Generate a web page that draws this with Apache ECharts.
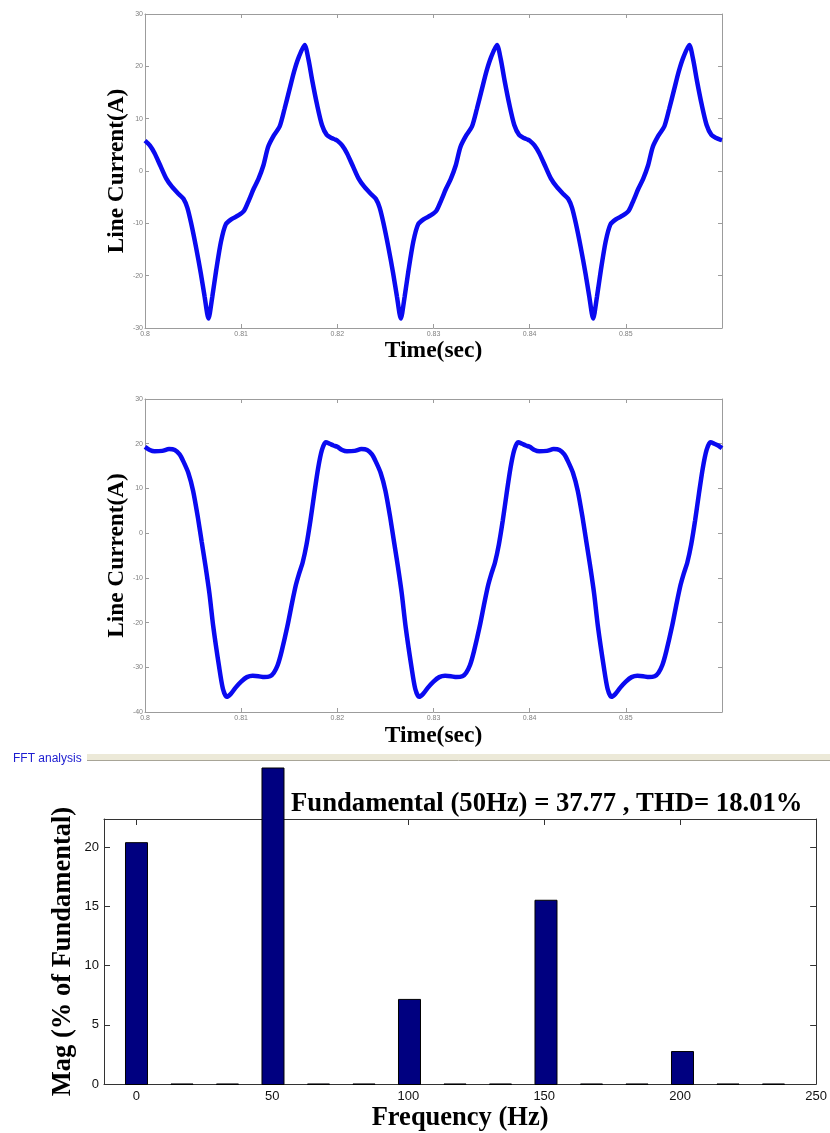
<!DOCTYPE html>
<html><head><meta charset="utf-8">
<script src="https://cdn.jsdelivr.net/npm/echarts@6/dist/echarts.min.js"></script>
<style>html,body{margin:0;padding:0;background:#fff;} #c{width:830px;height:1133px;}</style>
</head><body><div id="c"></div>
<script>
// ---------- data ----------
const topTime = [
0.8000,0.8005,0.8010,0.8016,0.8022,0.8028,0.8035,0.8040,0.8044,0.8048,0.8053,0.8058,0.8062,0.8066,0.8070,0.8074,0.8079,0.8084,0.8090,0.8097,0.8103,0.8108,0.8113,0.8118,0.8123,0.8128,0.8134,0.8140,0.8145,0.8150,0.8155,0.8160,0.8166,0.8170,0.8174,0.8179,0.8184,0.8189,0.8194,0.8198,
0.8200,0.8205,0.8210,0.8216,0.8222,0.8228,0.8235,0.8240,0.8244,0.8248,0.8253,0.8258,0.8262,0.8266,0.8270,0.8274,0.8279,0.8284,0.8290,0.8297,0.8303,0.8308,0.8313,0.8318,0.8323,0.8328,0.8334,0.8340,0.8345,0.8350,0.8355,0.8360,0.8366,0.8370,0.8374,0.8379,0.8384,0.8389,0.8394,0.8398,
0.8400,0.8405,0.8410,0.8416,0.8422,0.8428,0.8435,0.8440,0.8444,0.8448,0.8453,0.8458,0.8462,0.8466,0.8470,0.8474,0.8479,0.8484,0.8490,0.8497,0.8503,0.8508,0.8513,0.8518,0.8523,0.8528,0.8534,0.8540,0.8545,0.8550,0.8555,0.8560,0.8566,0.8570,0.8574,0.8579,0.8584,0.8589,0.8594,0.8598,
0.8600];
const topCurrent = [
5.8,4.9,3.4,1.0,-1.4,-3.0,-4.4,-5.3,-7.0,-10.0,-14.5,-19.5,-24.0,-28.2,-24.0,-19.0,-13.5,-10.2,-9.2,-8.5,-7.6,-5.6,-3.4,-1.5,1.0,4.6,6.8,8.5,11.8,15.4,19.0,21.8,24.1,21.3,17.2,12.6,8.8,6.9,6.3,6.0,
5.8,4.9,3.4,1.0,-1.4,-3.0,-4.4,-5.3,-7.0,-10.0,-14.5,-19.5,-24.0,-28.2,-24.0,-19.0,-13.5,-10.2,-9.2,-8.5,-7.6,-5.6,-3.4,-1.5,1.0,4.6,6.8,8.5,11.8,15.4,19.0,21.8,24.1,21.3,17.2,12.6,8.8,6.9,6.3,6.0,
5.8,4.9,3.4,1.0,-1.4,-3.0,-4.4,-5.3,-7.0,-10.0,-14.5,-19.5,-24.0,-28.2,-24.0,-19.0,-13.5,-10.2,-9.2,-8.5,-7.6,-5.6,-3.4,-1.5,1.0,4.6,6.8,8.5,11.8,15.4,19.0,21.8,24.1,21.3,17.2,12.6,8.8,6.9,6.3,6.0,
5.9];
const midTime = [
0.8000,0.8005,0.8010,0.8018,0.8025,0.8031,0.8036,0.8040,0.8045,0.8050,0.8055,0.8059,0.8063,0.8067,0.8071,0.8077,0.8081,0.8085,0.8089,0.8094,0.8100,0.8106,0.8112,0.8118,0.8124,0.8130,0.8134,0.8138,0.8142,0.8148,0.8153,0.8157,0.8160,0.8164,0.8168,0.8172,0.8176,0.8180,0.8184,0.8188,0.8192,0.8196,
0.8200,0.8205,0.8210,0.8218,0.8225,0.8231,0.8236,0.8240,0.8245,0.8250,0.8255,0.8259,0.8263,0.8267,0.8271,0.8277,0.8281,0.8285,0.8289,0.8294,0.8300,0.8306,0.8312,0.8318,0.8324,0.8330,0.8334,0.8338,0.8342,0.8348,0.8353,0.8357,0.8360,0.8364,0.8368,0.8372,0.8376,0.8380,0.8384,0.8388,0.8392,0.8396,
0.8400,0.8405,0.8410,0.8418,0.8425,0.8431,0.8436,0.8440,0.8445,0.8450,0.8455,0.8459,0.8463,0.8467,0.8471,0.8477,0.8481,0.8485,0.8489,0.8494,0.8500,0.8506,0.8512,0.8518,0.8524,0.8530,0.8534,0.8538,0.8542,0.8548,0.8553,0.8557,0.8560,0.8564,0.8568,0.8572,0.8576,0.8580,0.8584,0.8588,0.8592,0.8596,
0.8600];
const midCurrent = [
19.3,18.6,18.3,18.4,18.8,18.6,17.6,16.0,13.5,9.5,3.5,-2.0,-7.5,-13.5,-20.9,-29.8,-34.8,-36.6,-36.0,-34.6,-33.2,-32.2,-31.9,-32.0,-32.2,-32.0,-31.2,-29.5,-26.5,-20.9,-15.5,-11.5,-9.2,-6.5,-2.5,2.8,8.8,14.5,18.6,20.3,20.0,19.6,
19.3,18.6,18.3,18.4,18.8,18.6,17.6,16.0,13.5,9.5,3.5,-2.0,-7.5,-13.5,-20.9,-29.8,-34.8,-36.6,-36.0,-34.6,-33.2,-32.2,-31.9,-32.0,-32.2,-32.0,-31.2,-29.5,-26.5,-20.9,-15.5,-11.5,-9.2,-6.5,-2.5,2.8,8.8,14.5,18.6,20.3,20.0,19.6,
19.3,18.6,18.3,18.4,18.8,18.6,17.6,16.0,13.5,9.5,3.5,-2.0,-7.5,-13.5,-20.9,-29.8,-34.8,-36.6,-36.0,-34.6,-33.2,-32.2,-31.9,-32.0,-32.2,-32.0,-31.2,-29.5,-26.5,-20.9,-15.5,-11.5,-9.2,-6.5,-2.5,2.8,8.8,14.5,18.6,20.3,20.0,19.6,
19.0];
const timeTicks = [0.8, 0.81, 0.82, 0.83, 0.84, 0.85];
const topCurrentTicks = [-30, -20, -10, 0, 10, 20, 30];
const midCurrentTicks = [-40, -30, -20, -10, 0, 10, 20, 30];
const fftFreq = [0, 16.67, 33.33, 50, 66.67, 83.33, 100, 116.67, 133.33, 150, 166.67, 183.33, 200, 216.67, 233.33];
const fftMag  = [20.45, 0.13, 0.13, 100, 0.13, 0.13, 7.25, 0.13, 0.13, 15.6, 0.13, 0.13, 2.86, 0.13, 0.13];
const freqTicks = [0, 50, 100, 150, 200, 250];
const magTicks = [0, 5, 10, 15, 20];
const fftTitle = 'Fundamental (50Hz) = 37.77 , THD= 18.01%';
const panelLabel = 'FFT analysis';

// ---------- layout ----------
const fftGridTop = 819, fftGridH = 266, fftBarTop = 768, fftYMax = 22.4;
const fftBarYMax = fftYMax * (fftGridH + fftGridTop - fftBarTop) / fftGridH;

const serif = 'Liberation Serif, Times New Roman, serif';
const sans = 'Liberation Sans, Arial, sans-serif';
const grayAxis = '#9c9c9c';
const nameStyle = (fs) => ({fontFamily: serif, fontWeight: 'bold', fontSize: fs, color: '#000'});

function timeX(grid, pos, withLabel, nameGap) {
  return {
    type: 'value', gridIndex: grid, position: pos, min: 0.8, max: 0.86,
    axisLine: {onZero: false, lineStyle: {color: grayAxis, width: 1}},
    axisTick: {inside: true, length: 4, customValues: timeTicks, lineStyle: {color: grayAxis}},
    axisLabel: withLabel ? {customValues: timeTicks, fontSize: 7, color: '#808080', margin: 3, fontFamily: sans} : {show: false},
    splitLine: {show: false},
    name: withLabel ? 'Time(sec)' : '', nameLocation: 'middle', nameGap: nameGap, nameTextStyle: nameStyle(23.5)
  };
}
function currentY(grid, pos, min, max, ticks, withLabel) {
  return {
    type: 'value', gridIndex: grid, position: pos, min: min, max: max,
    axisLine: {onZero: false, lineStyle: {color: grayAxis, width: 1}},
    axisTick: {inside: true, length: 4, customValues: ticks, lineStyle: {color: grayAxis}},
    axisLabel: withLabel ? {customValues: ticks, fontSize: 7, color: '#808080', margin: 2, fontFamily: sans} : {show: false},
    splitLine: {show: false},
    name: withLabel ? 'Line Current(A)' : '', nameLocation: 'middle', nameGap: 17, nameMoveOverlap: false,
    nameTextStyle: nameStyle(23.3)
  };
}

const chart = echarts.init(document.getElementById('c'), null, {renderer: 'canvas'});
chart.setOption({
  animation: false,
  backgroundColor: '#fff',
  title: [{
    text: fftTitle, left: 286, top: 786,
    textStyle: {fontFamily: serif, fontWeight: 'bold', fontSize: 26.7, color: '#000'}
  }],
  grid: [
    {left: 145, top: 14, width: 577, height: 314},
    {left: 145, top: 399, width: 577, height: 313},
    {left: 104, top: fftGridTop, width: 715, height: fftGridH},
    {left: 104, top: fftBarTop, width: 715, height: fftGridH + fftGridTop - fftBarTop}
  ],
  xAxis: [
    timeX(0, 'bottom', true, 10),
    timeX(0, 'top', false, 0),
    timeX(1, 'bottom', true, 12),
    timeX(1, 'top', false, 0),
    {
      type: 'value', gridIndex: 2, position: 'bottom', min: -11.9, max: 250,
      axisLine: {onZero: false, lineStyle: {color: '#333', width: 1}},
      axisTick: {inside: true, length: 6, customValues: freqTicks, lineStyle: {color: '#333'}},
      axisLabel: {customValues: freqTicks, fontSize: 13, color: '#111', margin: 6, fontFamily: sans},
      splitLine: {show: false},
      name: 'Frequency (Hz)', nameLocation: 'middle', nameGap: 21, nameTextStyle: nameStyle(26.5)
    },
    {
      type: 'value', gridIndex: 2, position: 'top', min: -11.9, max: 250,
      axisLine: {onZero: false, lineStyle: {color: '#333', width: 1}},
      axisTick: {inside: true, length: 6, customValues: freqTicks, lineStyle: {color: '#333'}},
      axisLabel: {show: false}, splitLine: {show: false}
    },
    {type: 'value', gridIndex: 3, min: -11.9, max: 250, show: false}
  ],
  yAxis: [
    currentY(0, 'left', -30, 30, topCurrentTicks, true),
    currentY(0, 'right', -30, 30, topCurrentTicks, false),
    currentY(1, 'left', -40, 30, midCurrentTicks, true),
    currentY(1, 'right', -40, 30, midCurrentTicks, false),
    {
      type: 'value', gridIndex: 2, position: 'left', min: 0, max: fftYMax,
      axisLine: {onZero: false, lineStyle: {color: '#333', width: 1}},
      axisTick: {inside: true, length: 6, customValues: magTicks, lineStyle: {color: '#333'}},
      axisLabel: {customValues: magTicks, fontSize: 13, color: '#111', margin: 5, fontFamily: sans},
      splitLine: {show: false},
      name: 'Mag (% of Fundamental)', nameLocation: 'middle', nameGap: 27, nameMoveOverlap: false,
      nameTextStyle: nameStyle(26.5)
    },
    {
      type: 'value', gridIndex: 2, position: 'right', min: 0, max: fftYMax,
      axisLine: {onZero: false, lineStyle: {color: '#333', width: 1}},
      axisTick: {inside: true, length: 6, customValues: magTicks, lineStyle: {color: '#333'}},
      axisLabel: {show: false}, splitLine: {show: false}
    },
    {type: 'value', gridIndex: 3, min: 0, max: fftBarYMax, show: false}
  ],
  series: [
    {
      type: 'line', xAxisIndex: 0, yAxisIndex: 0, symbol: 'none', smooth: 0.25,
      lineStyle: {color: '#0a0af0', width: 4.5},
      data: topTime.map((t, i) => [t, topCurrent[i]])
    },
    {
      type: 'line', xAxisIndex: 2, yAxisIndex: 2, symbol: 'none', smooth: 0.25,
      lineStyle: {color: '#0a0af0', width: 4.5},
      data: midTime.map((t, i) => [t, midCurrent[i]])
    },
    {
      type: 'bar', xAxisIndex: 6, yAxisIndex: 6, barWidth: 23, clip: true,
      itemStyle: {color: '#000080', borderColor: '#000', borderWidth: 1},
      data: fftFreq.map((f, i) => [f, fftMag[i]])
    }
  ],
  graphic: [
    {type: 'rect', shape: {x: 87, y: 754, width: 743, height: 6}, style: {fill: '#ece9d8'}, silent: true},
    {type: 'line', shape: {x1: 87, y1: 760.5, x2: 830, y2: 760.5}, style: {stroke: '#a8a597', lineWidth: 1}, silent: true},
    {type: 'text', left: 13, top: 753, style: {text: panelLabel, fontSize: 12, fontFamily: sans, fill: '#1c1cd0'}, silent: true}
  ]
});
</script>
</body></html>
